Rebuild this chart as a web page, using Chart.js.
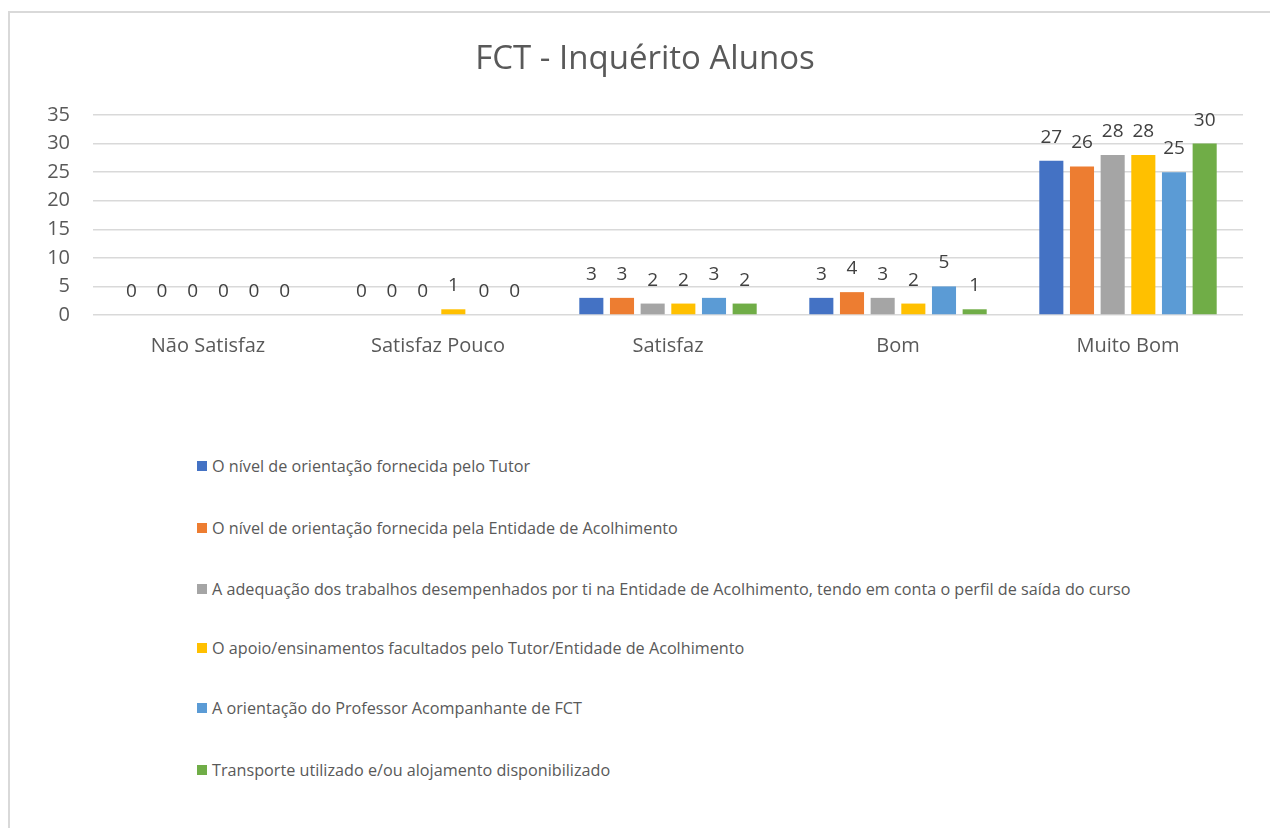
<!DOCTYPE html>
<html>
<head>
<meta charset="utf-8">
<script src="https://cdn.jsdelivr.net/npm/chart.js@4.4.1/dist/chart.umd.min.js"></script>
<style>
  html, body { margin:0; padding:0; background:#fff; overflow:hidden; width:1270px; height:828px; }
  #frame { position:absolute; left:8px; top:11px; width:1400px; height:1000px; border-left:2px solid #d9d9d9; border-top:2px solid #d9d9d9; }
  #wrap { position:absolute; left:10px; top:0px; width:1270px; height:400px; }
  #legend { position:absolute; left:197px; top:0; font-family:"Open Sans", sans-serif; font-size:16.2px; color:#595959; }
  .li { position:absolute; left:0; white-space:nowrap; display:flex; align-items:center; transform:translateY(-50%); }
  .sw { width:10px; height:10px; margin-right:5px; flex:none; }
</style>
</head>
<body>
<div id="frame"></div>
<div id="wrap"><canvas id="c" width="1270" height="400"></canvas></div>
<div id="legend"></div>
<script>
const categories = ["Não Satisfaz", "Satisfaz Pouco", "Satisfaz", "Bom", "Muito Bom"];
const seriesNames = [
  "O nível de orientação fornecida pelo Tutor",
  "O nível de orientação fornecida pela Entidade de Acolhimento",
  "A adequação dos trabalhos desempenhados por ti na Entidade de Acolhimento, tendo em conta o perfil de saída do curso",
  "O apoio/ensinamentos facultados pelo Tutor/Entidade de Acolhimento",
  "A orientação do Professor Acompanhante de FCT",
  "Transporte utilizado e/ou alojamento disponibilizado"
];
const tutor      = [0, 0, 3, 3, 27];
const entidade   = [0, 0, 3, 4, 26];
const adequacao  = [0, 0, 2, 3, 28];
const apoio      = [0, 1, 2, 2, 28];
const professor  = [0, 0, 3, 5, 25];
const transporte = [0, 0, 2, 1, 30];
const seriesValues = [tutor, entidade, adequacao, apoio, professor, transporte];
const colors = ["#4472C4", "#ED7D31", "#A5A5A5", "#FFC000", "#5B9BD5", "#70AD47"];
const yTicks = [0, 5, 10, 15, 20, 25, 30, 35];

const FONT = '"Open Sans", sans-serif';

const valueLabels = {
  id: 'valueLabels',
  afterDatasetsDraw(chart) {
    const ctx = chart.ctx;
    ctx.save();
    ctx.font = '19px ' + FONT;
    ctx.fillStyle = '#404040';
    ctx.textAlign = 'center';
    ctx.textBaseline = 'alphabetic';
    chart.data.datasets.forEach((ds, i) => {
      const meta = chart.getDatasetMeta(i);
      meta.data.forEach((bar, j) => {
        ctx.fillText(String(ds.data[j]), bar.x, bar.y - 18);
      });
    });
    ctx.restore();
  }
};

new Chart(document.getElementById('c'), {
  type: 'bar',
  data: {
    labels: categories,
    datasets: seriesValues.map((vals, i) => ({
      label: seriesNames[i],
      data: vals,
      backgroundColor: colors[i],
      borderWidth: 0,
      categoryPercentage: 0.8,
      barPercentage: 0.785
    }))
  },
  options: {
    responsive: false,
    animation: false,
    layout: { padding: { left: 37, right: 37, top: 0, bottom: 0 } },
    plugins: {
      legend: { display: false },
      tooltip: { enabled: false },
      title: {
        display: true,
        text: 'FCT - Inquérito Alunos',
        color: '#595959',
        font: { family: FONT, size: 33, weight: 'normal' },
        padding: { top: 40, bottom: 35.4 }
      }
    },
    scales: {
      x: {
        grid: { display: false, drawTicks: false },
        border: { display: false },
        ticks: { color: '#595959', font: { family: FONT, size: 20 }, padding: 19, maxRotation: 0 },
        afterFit(s) { s.height = 85; }
      },
      y: {
        min: 0, max: 35,
        afterBuildTicks(s) { s.ticks = yTicks.map(v => ({ value: v })); },
        grid: { color: '#d9d9d9', lineWidth: 1.5, drawTicks: false },
        border: { display: false },
        ticks: { color: '#595959', font: { family: FONT, size: 20 }, padding: 23 },
        afterFit(s) { s.width = 46; }
      }
    }
  },
  plugins: [valueLabels]
});

const legendY = [466, 528, 589, 648, 708, 770];
const lg = document.getElementById('legend');
seriesNames.forEach((name, i) => {
  const d = document.createElement('div');
  d.className = 'li';
  d.style.top = legendY[i] + 'px';
  const sw = document.createElement('span');
  sw.className = 'sw';
  sw.style.background = colors[i];
  const t = document.createElement('span');
  t.textContent = name;
  d.appendChild(sw); d.appendChild(t);
  lg.appendChild(d);
});
</script>
</body>
</html>
